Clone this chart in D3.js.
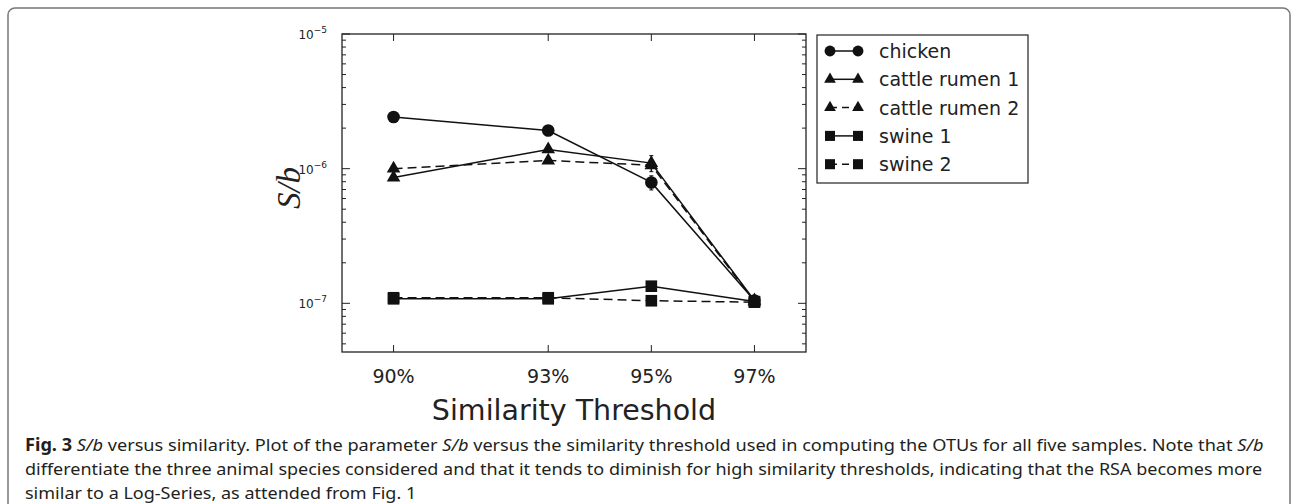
<!DOCTYPE html>
<html><head><meta charset="utf-8">
<script src="https://cdn.jsdelivr.net/npm/d3@7/dist/d3.min.js"></script>
<style>body{margin:0;background:#fff}</style>
</head><body>
<svg id="chart" width="1294" height="504"></svg>
<script>
// ---- data ----
const thresholds = [90, 93, 95, 97];
const xTickLabels = ["90%", "93%", "95%", "97%"];
const yMajorTicks = [1e-7, 1e-6, 1e-5];
const yTickExponents = ["−7", "−6", "−5"];
const seriesNames = ["chicken", "cattle rumen 1", "cattle rumen 2", "swine 1", "swine 2"];
const chicken  = [2.42e-6, 1.92e-6, 7.9e-7, 1.05e-7];
const chickenErr = [0.2e-6, 0.04e-6, 0.95e-7, 0];
const cattle1  = [8.6e-7, 1.39e-6, 1.10e-6, 1.05e-7];
const cattle1Err = [0, 0, 0.15e-6, 0];
const cattle2  = [1.0e-6, 1.15e-6, 1.06e-6, 1.03e-7];
const cattle2Err = [0, 0, 0, 0];
const swine1   = [1.08e-7, 1.08e-7, 1.34e-7, 1.03e-7];
const swine1Err = [0, 0, 0, 0];
const swine2   = [1.10e-7, 1.10e-7, 1.045e-7, 1.02e-7];
const swine2Err = [0, 0, 0, 0];
const captionLines = [
  [["b","Fig. 3"],["n"," "],["i","S/b"],["n"," versus similarity. Plot of the parameter "],["i","S/b"],["n"," versus the similarity threshold used in computing the OTUs for all five samples. Note that "],["i","S/b"]],
  [["n","differentiate the three animal species considered and that it tends to diminish for high similarity thresholds, indicating that the RSA becomes more"]],
  [["n","similar to a Log-Series, as attended from Fig. 1"]]
];

// ---- styles (kept separate from data) ----
const styles = [
  {values: chicken, err: chickenErr, symbol: d3.symbolCircle, size: 125, dash: null},
  {values: cattle1, err: cattle1Err, symbol: d3.symbolTriangle, size: 80, dash: null},
  {values: cattle2, err: cattle2Err, symbol: d3.symbolTriangle, size: 80, dash: "9,5"},
  {values: swine1, err: swine1Err, symbol: d3.symbolSquare, size: 135, dash: null},
  {values: swine2, err: swine2Err, symbol: d3.symbolSquare, size: 135, dash: "9,5"}
];

const svg = d3.select("#chart");
const L = 342, T = 34, R = 806, B = 352;
const x = d3.scaleLinear().domain([89, 98]).range([L, R]);
const y = d3.scaleLog().domain([4.35e-8, 1e-5]).range([B, T]);

// outer figure border
svg.append("rect").attr("x", 8).attr("y", 8).attr("width", 1282).attr("height", 560)
  .attr("rx", 7).attr("fill", "none").attr("stroke", "#777").attr("stroke-width", 1.5);

const g = svg.append("g");

// ticks
const minor = [];
for (let e = -8; e <= -6; e++) for (let m = 2; m <= 9; m++) {
  const v = m * Math.pow(10, e);
  if (v > 4.4e-8 && v < 1e-5) minor.push(v);
}
const tk = g.append("g").attr("stroke", "#222").attr("stroke-width", 1);
minor.forEach(v => {
  tk.append("line").attr("x1", L).attr("x2", L + 4).attr("y1", y(v)).attr("y2", y(v));
  tk.append("line").attr("x1", R).attr("x2", R - 4).attr("y1", y(v)).attr("y2", y(v));
});
yMajorTicks.forEach(v => {
  tk.append("line").attr("x1", L).attr("x2", L + 8).attr("y1", y(v)).attr("y2", y(v));
  tk.append("line").attr("x1", R).attr("x2", R - 8).attr("y1", y(v)).attr("y2", y(v));
});
thresholds.forEach(v => {
  tk.append("line").attr("x1", x(v)).attr("x2", x(v)).attr("y1", B).attr("y2", B - 7);
  tk.append("line").attr("x1", x(v)).attr("x2", x(v)).attr("y1", T).attr("y2", T + 7);
});

// y tick labels
yMajorTicks.forEach((v, i) => {
  const t = g.append("text").attr("x", 327).attr("y", y(v) + 5).attr("text-anchor", "end")
    .attr("font-family", "DejaVu Sans").attr("font-size", 12).attr("fill", "#222");
  t.append("tspan").text("10");
  t.append("tspan").attr("dy", -6).attr("font-size", 9).text(yTickExponents[i]);
});
// x tick labels
thresholds.forEach((v, i) => {
  g.append("text").attr("x", x(v)).attr("y", 383).attr("text-anchor", "middle")
    .attr("font-family", "DejaVu Sans").attr("font-size", 19).attr("fill", "#222").text(xTickLabels[i]);
});
// axis titles
g.append("text").attr("x", x(93.5)).attr("y", 420).attr("text-anchor", "middle")
  .attr("font-family", "DejaVu Sans").attr("font-size", 28.5).attr("fill", "#222").text("Similarity Threshold");
g.append("text").attr("transform", "translate(300,188) rotate(-90)").attr("text-anchor", "middle")
  .attr("font-family", "Liberation Serif").attr("font-style", "italic").attr("font-size", 33).attr("fill", "#222").text("S/b");

// series
const line = d3.line().x((d, i) => x(thresholds[i])).y(d => y(d));
styles.forEach(s => {
  g.append("path").datum(s.values).attr("d", line).attr("fill", "none").attr("stroke", "#111")
    .attr("stroke-width", 1.5).attr("stroke-dasharray", s.dash);
});
styles.forEach(s => {
  s.values.forEach((v, i) => {
    if (s.err[i] > 0) {
      const cx = x(thresholds[i]);
      const y1 = y(v + s.err[i]), y2 = y(v - s.err[i]);
      g.append("line").attr("x1", cx).attr("x2", cx).attr("y1", y1).attr("y2", y2).attr("stroke", "#111").attr("stroke-width", 1.5);
      [y1, y2].forEach(yy => g.append("line").attr("x1", cx - 2).attr("x2", cx + 2).attr("y1", yy).attr("y2", yy).attr("stroke", "#111").attr("stroke-width", 1));
    }
  });
  g.selectAll(null).data(s.values).enter().append("path")
    .attr("transform", (d, i) => `translate(${x(thresholds[i])},${y(d)})`)
    .attr("d", d3.symbol().type(s.symbol).size(s.size)).attr("fill", "#111");
});

// frame
g.append("rect").attr("x", L).attr("y", T).attr("width", R - L).attr("height", B - T)
  .attr("fill", "none").attr("stroke", "#222").attr("stroke-width", 1.3);

// legend
const lg = svg.append("g");
lg.append("rect").attr("x", 817).attr("y", 35).attr("width", 211).attr("height", 148)
  .attr("fill", "#fff").attr("stroke", "#333").attr("stroke-width", 1.3);
styles.forEach((s, i) => {
  const yy = 51 + i * 28.3;
  lg.append("line").attr("x1", 830).attr("x2", 858).attr("y1", yy).attr("y2", yy)
    .attr("stroke", "#111").attr("stroke-width", 1.5).attr("stroke-dasharray", s.dash ? "7,5" : null);
  [830, 858].forEach(xx => lg.append("path").attr("transform", `translate(${xx},${yy})`)
    .attr("d", d3.symbol().type(s.symbol).size(s.size * 0.75)).attr("fill", "#111"));
  lg.append("text").attr("x", 879).attr("y", yy + 7).attr("font-family", "DejaVu Sans")
    .attr("font-size", 19).attr("fill", "#222").text(seriesNames[i]);
});

// caption
const cap = svg.append("g");
const lineTexts = captionLines.map((parts, li) => {
  const t = cap.append("text").attr("x", 0).attr("y", 0)
    .attr("font-family", "Noto Sans").attr("font-size", 17).attr("fill", "#231f20");
  parts.forEach(([k, s]) => {
    const sp = t.append("tspan").text(s);
    if (k === "b") sp.attr("font-weight", "bold");
    if (k === "i") sp.attr("font-style", "italic");
  });
  return t;
});
const sx0 = 1240 / lineTexts[0].node().getComputedTextLength();
const sx1 = 1238 / lineTexts[1].node().getComputedTextLength();
const scales = [sx0, sx1, sx1];
const baselines = [451, 475, 499];
lineTexts.forEach((t, i) => t.attr("transform", `translate(25,${baselines[i]}) scale(${scales[i]},1)`));
</script>
</body></html>
